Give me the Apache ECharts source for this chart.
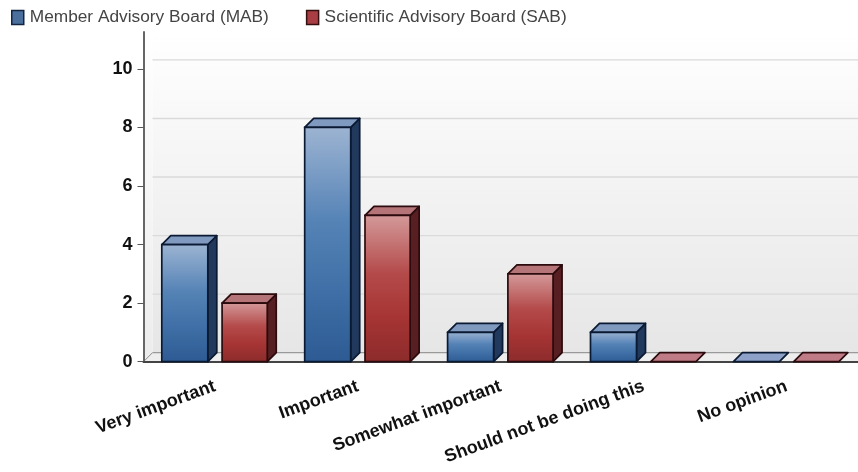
<!DOCTYPE html>
<html><head><meta charset="utf-8">
<script src="https://cdn.jsdelivr.net/npm/echarts@6/dist/echarts.min.js"></script>
<style>html,body{margin:0;background:#fff}#c{width:858px;height:472px;filter:blur(0.4px)}</style></head>
<body><div id="c"></div>
<script>
const categories=['Very important','Important','Somewhat important','Should not be doing this','No opinion'];
const mabValues=[4,8,1,1,0];
const sabValues=[2,5,3,0,0];
const yTicks=[0,2,4,6,8,10];
const DEPTH=9;
const blue={top:'#7f99bf',side:'#20395c',stroke:'#0b1a33',flat:'#8ea2c9',stops:['#9db4d2','#5583b6','#3f6fa6','#2d5a92']};
const red={top:'#b47478',side:'#571f21',stroke:'#2b0b0d',flat:'#c07c86',stops:['#d49a9a','#b44a4a','#a63434','#8c2b2b']};
function poly(pts,fill,stroke){return{type:'polygon',shape:{points:pts},style:{fill,stroke,lineWidth:1.7,lineJoin:'round'}};}
function bar(pal,from,to){return function(params,api){
  const c=api.coord([api.value(0),api.value(1)]);
  const base=api.coord([api.value(0),0]);
  const band=api.size([1,0])[0];
  const x0=c[0]+from*band,x1=c[0]+to*band,y0=c[1],y1=base[1];
  const d=DEPTH,kids=[];
  if(y1-y0>0.5){
    kids.push(poly([[x1,y0],[x1+d,y0-d],[x1+d,y1-d],[x1,y1]],pal.side,pal.stroke));
    kids.push(poly([[x0,y0],[x0+d,y0-d],[x1+d,y0-d],[x1,y0]],pal.top,pal.stroke));
    kids.push({type:'rect',shape:{x:x0,y:y0,width:x1-x0,height:y1-y0},style:{
      stroke:pal.stroke,lineWidth:1.7,
      fill:new echarts.graphic.LinearGradient(0,0,0,1,[
        {offset:0,color:pal.stops[0]},{offset:.4,color:pal.stops[1]},
        {offset:.7,color:pal.stops[2]},{offset:1,color:pal.stops[3]}])}});
  }else{
    kids.push(poly([[x0,y0],[x0+d,y0-d],[x1+d,y0-d],[x1,y0]],pal.flat,pal.stroke));
  }
  return{type:'group',children:kids};
};}
function wall(params,api){
  const cs=params.coordSys,d=DEPTH;
  const y=api.coord([0,api.value(0)])[1];
  const right=cs.x+cs.width,bottom=cs.y+cs.height;
  const kids=[];
  if(params.dataIndex===0){
    kids.push({type:'rect',shape:{x:cs.x+d,y:cs.y,width:cs.width-d,height:cs.height-d},style:{
      fill:new echarts.graphic.LinearGradient(0,0,0,1,[{offset:0,color:'#ffffff'},{offset:1,color:'#e6e6e6'}])}});
    kids.push({type:'polygon',shape:{points:[[cs.x,cs.y],[cs.x+d,cs.y],[cs.x+d,bottom-d],[cs.x,bottom]]},style:{
      fill:new echarts.graphic.LinearGradient(0,0,0,1,[{offset:0,color:'#ffffff'},{offset:1,color:'#ececec'}])}});
    kids.push({type:'polygon',shape:{points:[[cs.x,bottom],[cs.x+d,bottom-d],[right,bottom-d],[right,bottom]]},style:{fill:'#eeeeee'}});
    kids.push({type:'line',shape:{x1:cs.x,y1:bottom,x2:cs.x+d,y2:bottom-d},style:{stroke:'#8a8a8a',lineWidth:1}});
    kids.push({type:'line',shape:{x1:cs.x+d,y1:bottom-d,x2:right,y2:bottom-d},style:{stroke:'#9a9a9a',lineWidth:1.2}});
  }
  if(api.value(0)>0){
    kids.push({type:'line',shape:{x1:cs.x+d,y1:y-d,x2:right,y2:y-d},style:{stroke:'#dadada',lineWidth:1.4}});
  }
  return{type:'group',children:kids};
}
const chart=echarts.init(document.getElementById('c'),null,{renderer:'canvas'});
chart.setOption({
  animation:false,
  backgroundColor:'#fff',
  grid:{left:143.5,right:-3.5,top:32,height:329.7},
  legend:{left:6,top:4,itemWidth:12,itemHeight:14,itemGap:37,
    textStyle:{fontFamily:'Liberation Sans',fontSize:17.3,color:'#444',padding:[3,0,0,1]},
    data:[
      {name:'Member Advisory Board (MAB)',icon:'rect',itemStyle:{color:'#4a6f9c',borderColor:'#12243f',borderWidth:1.5}},
      {name:'Scientific Advisory Board (SAB)',icon:'rect',itemStyle:{color:'#a83e44',borderColor:'#33100f',borderWidth:1.5}}]},
  xAxis:{type:'category',data:categories,z:2,
    axisLine:{lineStyle:{color:'#444',width:2}},
    axisTick:{alignWithLabel:true,length:8,lineStyle:{color:'#555'}},
    axisLabel:{rotate:20,interval:0,margin:24,fontFamily:'Liberation Sans',fontWeight:'bold',fontSize:18,color:'#111'}},
  yAxis:{type:'value',min:0,max:11.26,z:2,
    splitLine:{show:false},
    axisLine:{show:true,lineStyle:{color:'#666',width:2}},
    axisTick:{show:true,length:6,customValues:yTicks,lineStyle:{color:'#555'}},
    axisLabel:{customValues:yTicks,margin:11,fontFamily:'Liberation Sans',fontWeight:'bold',fontSize:18,color:'#111'}},
  series:[
    {type:'custom',name:'wall',silent:true,clip:false,z:1,coordinateSystem:'cartesian2d',
      encode:{y:0},data:yTicks.map(v=>[v]),renderItem:wall},
    {type:'custom',name:'Member Advisory Board (MAB)',clip:false,z:3,renderItem:bar(blue,-0.372,-0.05),
      encode:{x:0,y:1},data:mabValues.map((v,i)=>[i,v])},
    {type:'custom',name:'Scientific Advisory Board (SAB)',clip:false,z:3,renderItem:bar(red,0.05,0.366),
      encode:{x:0,y:1},data:sabValues.map((v,i)=>[i,v])}
  ]
});
</script></body></html>
